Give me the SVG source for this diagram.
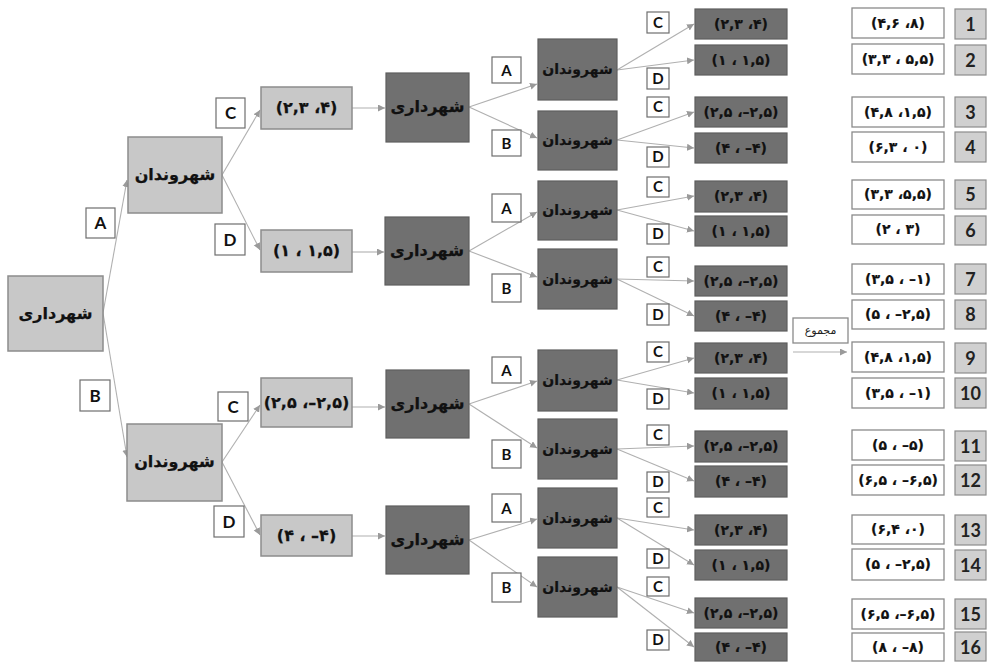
<svg xmlns="http://www.w3.org/2000/svg" width="987" height="662" viewBox="0 0 987 662">
<defs>
<marker id="ah" markerUnits="userSpaceOnUse" markerWidth="8" markerHeight="8" refX="7" refY="3.5" orient="auto">
<path d="M0,0 L7,3.5 L0,7 z" fill="#9a9a9a"/>
</marker>
<style>
.lt{fill:#c8c8c8;stroke:#8c8c8c;stroke-width:1.5}
.dk{fill:#707070;stroke:#5e5e5e;stroke-width:1.2}
.lb{fill:#fff;stroke:#6e6e6e;stroke-width:1.2}
.sm{fill:#fff;stroke:#8a8a8a;stroke-width:1.3}
.nb{fill:#d0d0d0;stroke:#8c8c8c;stroke-width:1.2}
.fa{font-family:'DejaVu Sans',sans-serif;font-weight:bold;font-size:16px;text-anchor:middle;fill:#111;stroke:#111;stroke-width:0.25}
.fs{font-family:'DejaVu Sans',sans-serif;font-weight:bold;font-size:14px;text-anchor:middle;fill:#111;stroke:#111;stroke-width:0.2}
.la{font-family:Lato,'Liberation Sans',sans-serif;font-weight:bold;font-size:17px;text-anchor:middle;fill:#111}
.ls{font-family:Lato,'Liberation Sans',sans-serif;font-weight:bold;font-size:15px;text-anchor:middle;fill:#111}
.nm{font-family:Lato,'Liberation Sans',sans-serif;font-weight:bold;font-size:18px;text-anchor:middle;fill:#222}
.mj{font-family:'DejaVu Sans',sans-serif;font-size:11px;text-anchor:middle;fill:#222}
.cn{fill:none;stroke:#b0b0b0;stroke-width:1.1;marker-end:url(#ah)}
</style>
</defs>
<rect width="987" height="662" fill="#fff"/>

<g id="connectors">
<path class="cn" d="M103,313 L127,180"/>
<path class="cn" d="M103,313 L127,457"/>
<path class="cn" d="M222,175 L260,110"/>
<path class="cn" d="M222,175 L260,250"/>
<path class="cn" d="M222,462 L260,405"/>
<path class="cn" d="M222,462 L260,535"/>
<path class="cn" d="M352,108 L385,108"/>
<path class="cn" d="M352,252 L384,252"/>
<path class="cn" d="M352,407 L385,407"/>
<path class="cn" d="M352,536 L385,536"/>
<path class="cn" d="M469,107 L537,84"/>
<path class="cn" d="M469,107 L537,138"/>
<path class="cn" d="M469,251 L537,212"/>
<path class="cn" d="M469,251 L537,277"/>
<path class="cn" d="M469,404 L537,381"/>
<path class="cn" d="M469,404 L537,448"/>
<path class="cn" d="M469,540 L537,519"/>
<path class="cn" d="M469,540 L537,587"/>
<path class="cn" d="M617,70 L694,24"/>
<path class="cn" d="M617,70 L694,60"/>
<path class="cn" d="M617,140 L694,112"/>
<path class="cn" d="M617,140 L694,148"/>
<path class="cn" d="M617,210 L694,196"/>
<path class="cn" d="M617,210 L694,231"/>
<path class="cn" d="M617,279 L694,281"/>
<path class="cn" d="M617,279 L694,316"/>
<path class="cn" d="M617,380 L694,358"/>
<path class="cn" d="M617,380 L694,393"/>
<path class="cn" d="M617,449 L694,446"/>
<path class="cn" d="M617,449 L694,481"/>
<path class="cn" d="M617,518 L694,530"/>
<path class="cn" d="M617,518 L694,565"/>
<path class="cn" d="M617,587 L694,613"/>
<path class="cn" d="M617,587 L694,647"/>
<path class="cn" d="M793,352 L847,352"/>
</g>

<g id="root"><rect class="lt" x="8" y="276" width="95" height="75"/><text class="fa" x="55.5" y="319">شهرداری</text></g>
<g id="citizen-A"><rect class="lt" x="128" y="137" width="94" height="76"/><text class="fa" x="175" y="180">شهروندان</text></g>
<g id="citizen-B"><rect class="lt" x="127" y="424" width="95" height="77"/><text class="fa" x="174.5" y="467">شهروندان</text></g>

<g id="lab-A"><rect class="lb" x="86" y="208" width="29" height="30"/><text class="la" x="100.5" y="229">A</text></g>
<g id="lab-B"><rect class="lb" x="80" y="380" width="30" height="31"/><text class="la" x="95" y="402">B</text></g>
<g id="lab-AC"><rect class="lb" x="216" y="98" width="29" height="30"/><text class="la" x="230.5" y="119">C</text></g>
<g id="lab-AD"><rect class="lb" x="215" y="224" width="30" height="31"/><text class="la" x="230" y="246">D</text></g>
<g id="lab-BC"><rect class="lb" x="218" y="392" width="30" height="29"/><text class="la" x="233" y="413">C</text></g>
<g id="lab-BD"><rect class="lb" x="214" y="506" width="30" height="31"/><text class="la" x="229" y="528">D</text></g>

<g id="pay-AC"><rect class="lt" x="261" y="87" width="91" height="42"/><text class="fa" x="306.5" y="113">(۲,۳ ،۴)</text></g>
<g id="pay-AD"><rect class="lt" x="261" y="230" width="91" height="42"/><text class="fa" x="306.5" y="256">(۱ ، ۱,۵)</text></g>
<g id="pay-BC"><rect class="lt" x="261" y="378" width="91" height="49"/><text class="fa" x="306.5" y="408">(۲,۵ ،–۲,۵)</text></g>
<g id="pay-BD"><rect class="lt" x="261" y="515" width="91" height="41"/><text class="fa" x="306.5" y="541">(۴ ، –۴)</text></g>

<g id="mun-1"><rect class="dk" x="386" y="73" width="83" height="69"/><text class="fa" x="427.5" y="112">شهرداری</text></g>
<g id="mun-2"><rect class="dk" x="385" y="217" width="84" height="68"/><text class="fa" x="427" y="256">شهرداری</text></g>
<g id="mun-3"><rect class="dk" x="386" y="370" width="83" height="68"/><text class="fa" x="427.5" y="409">شهرداری</text></g>
<g id="mun-4"><rect class="dk" x="386" y="506" width="83" height="68"/><text class="fa" x="427.5" y="545">شهرداری</text></g>

<g id="g1-A"><rect class="lb" x="492" y="57" width="29" height="26"/><text class="ls" x="506.5" y="76">A</text></g>
<g id="g1-B"><rect class="lb" x="492" y="130" width="29" height="26"/><text class="ls" x="506.5" y="149">B</text></g>
<g id="g2-A"><rect class="lb" x="492" y="194" width="29" height="28"/><text class="ls" x="506.5" y="214">A</text></g>
<g id="g2-B"><rect class="lb" x="492" y="274" width="29" height="28"/><text class="ls" x="506.5" y="294">B</text></g>
<g id="g3-A"><rect class="lb" x="492" y="357" width="29" height="26"/><text class="ls" x="506.5" y="376">A</text></g>
<g id="g3-B"><rect class="lb" x="492" y="440" width="29" height="28"/><text class="ls" x="506.5" y="460">B</text></g>
<g id="g4-A"><rect class="lb" x="492" y="494" width="29" height="28"/><text class="ls" x="506.5" y="514">A</text></g>
<g id="g4-B"><rect class="lb" x="492" y="573" width="29" height="29"/><text class="ls" x="506.5" y="593">B</text></g>

<g id="g1-cA"><rect class="dk" x="538" y="39" width="79" height="61"/><text class="fs" x="577.5" y="74">شهروندان</text></g>
<g id="g1-cB"><rect class="dk" x="538" y="111" width="79" height="59"/><text class="fs" x="577.5" y="145">شهروندان</text></g>
<g id="g2-cA"><rect class="dk" x="538" y="181" width="79" height="59"/><text class="fs" x="577.5" y="215">شهروندان</text></g>
<g id="g2-cB"><rect class="dk" x="538" y="249" width="79" height="60"/><text class="fs" x="577.5" y="284">شهروندان</text></g>
<g id="g3-cA"><rect class="dk" x="538" y="350" width="79" height="61"/><text class="fs" x="577.5" y="385">شهروندان</text></g>
<g id="g3-cB"><rect class="dk" x="538" y="419" width="79" height="60"/><text class="fs" x="577.5" y="454">شهروندان</text></g>
<g id="g4-cA"><rect class="dk" x="538" y="488" width="79" height="60"/><text class="fs" x="577.5" y="523">شهروندان</text></g>
<g id="g4-cB"><rect class="dk" x="538" y="557" width="79" height="60"/><text class="fs" x="577.5" y="592">شهروندان</text></g>

<g id="g1-C1"><rect class="lb" x="647" y="12" width="22" height="21"/><text class="ls" x="658" y="28">C</text></g>
<g id="g1-D1"><rect class="lb" x="647" y="68" width="22" height="21"/><text class="ls" x="658" y="84">D</text></g>
<g id="g1-C2"><rect class="lb" x="647" y="97" width="22" height="20"/><text class="ls" x="658" y="112">C</text></g>
<g id="g1-D2"><rect class="lb" x="647" y="147" width="22" height="20"/><text class="ls" x="658" y="162">D</text></g>
<g id="g2-C1"><rect class="lb" x="647" y="177" width="22" height="20"/><text class="ls" x="658" y="192">C</text></g>
<g id="g2-D1"><rect class="lb" x="647" y="224" width="22" height="20"/><text class="ls" x="658" y="239">D</text></g>
<g id="g2-C2"><rect class="lb" x="647" y="257" width="22" height="20"/><text class="ls" x="658" y="272">C</text></g>
<g id="g2-D2"><rect class="lb" x="647" y="304" width="22" height="21"/><text class="ls" x="658" y="320">D</text></g>
<g id="g3-C1"><rect class="lb" x="647" y="342" width="22" height="20"/><text class="ls" x="658" y="357">C</text></g>
<g id="g3-D1"><rect class="lb" x="647" y="389" width="22" height="20"/><text class="ls" x="658" y="404">D</text></g>
<g id="g3-C2"><rect class="lb" x="647" y="425" width="22" height="20"/><text class="ls" x="658" y="440">C</text></g>
<g id="g3-D2"><rect class="lb" x="647" y="472" width="22" height="20"/><text class="ls" x="658" y="487">D</text></g>
<g id="g4-C1"><rect class="lb" x="647" y="498" width="22" height="19"/><text class="ls" x="658" y="513">C</text></g>
<g id="g4-D1"><rect class="lb" x="647" y="549" width="22" height="19"/><text class="ls" x="658" y="564">D</text></g>
<g id="g4-C2"><rect class="lb" x="647" y="577" width="22" height="19"/><text class="ls" x="658" y="592">C</text></g>
<g id="g4-D2"><rect class="lb" x="647" y="630" width="22" height="20"/><text class="ls" x="658" y="645">D</text></g>

<g id="g1-p1"><rect class="dk" x="695" y="9" width="92" height="30"/><text class="fs" x="741" y="29">(۲,۳ ،۴)</text></g>
<g id="g1-p2"><rect class="dk" x="695" y="45" width="92" height="30"/><text class="fs" x="741" y="65">(۱ ، ۱,۵)</text></g>
<g id="g1-p3"><rect class="dk" x="695" y="97" width="92" height="30"/><text class="fs" x="741" y="117">(۲,۵ ،–۲,۵)</text></g>
<g id="g1-p4"><rect class="dk" x="695" y="133" width="92" height="30"/><text class="fs" x="741" y="153">(۴ ، –۴)</text></g>
<g id="g2-p1"><rect class="dk" x="695" y="181" width="92" height="31"/><text class="fs" x="741" y="201">(۲,۳ ،۴)</text></g>
<g id="g2-p2"><rect class="dk" x="695" y="216" width="92" height="30"/><text class="fs" x="741" y="236">(۱ ، ۱,۵)</text></g>
<g id="g2-p3"><rect class="dk" x="695" y="266" width="92" height="30"/><text class="fs" x="741" y="286">(۲,۵ ،–۲,۵)</text></g>
<g id="g2-p4"><rect class="dk" x="695" y="301" width="92" height="30"/><text class="fs" x="741" y="321">(۴ ، –۴)</text></g>
<g id="g3-p1"><rect class="dk" x="695" y="343" width="92" height="30"/><text class="fs" x="741" y="363">(۲,۳ ،۴)</text></g>
<g id="g3-p2"><rect class="dk" x="695" y="378" width="92" height="31"/><text class="fs" x="741" y="398">(۱ ، ۱,۵)</text></g>
<g id="g3-p3"><rect class="dk" x="695" y="431" width="92" height="31"/><text class="fs" x="741" y="451">(۲,۵ ،–۲,۵)</text></g>
<g id="g3-p4"><rect class="dk" x="695" y="466" width="92" height="31"/><text class="fs" x="741" y="486">(۴ ، –۴)</text></g>
<g id="g4-p1"><rect class="dk" x="695" y="515" width="92" height="30"/><text class="fs" x="741" y="535">(۲,۳ ،۴)</text></g>
<g id="g4-p2"><rect class="dk" x="695" y="550" width="92" height="30"/><text class="fs" x="741" y="570">(۱ ، ۱,۵)</text></g>
<g id="g4-p3"><rect class="dk" x="695" y="598" width="92" height="30"/><text class="fs" x="741" y="618">(۲,۵ ،–۲,۵)</text></g>
<g id="g4-p4"><rect class="dk" x="695" y="633" width="92" height="28"/><text class="fs" x="741" y="652">(۴ ، –۴)</text></g>

<g id="sum-label"><rect class="sm" x="793" y="318" width="55" height="25"/><text class="mj" x="820.5" y="334">مجموع</text></g>

<g id="s1"><rect class="sm" x="852" y="8" width="92" height="30"/><text class="fs" x="898" y="28">(۴,۶ ،۸)</text><rect class="nb" x="955" y="9" width="31" height="30"/><text class="nm" x="970.5" y="31">1</text></g>
<g id="s2"><rect class="sm" x="852" y="44" width="92" height="30"/><text class="fs" x="898" y="64">(۳,۳ ، ۵,۵)</text><rect class="nb" x="955" y="45" width="31" height="30"/><text class="nm" x="970.5" y="67">2</text></g>
<g id="s3"><rect class="sm" x="852" y="97" width="92" height="30"/><text class="fs" x="898" y="117">(۴,۸ ،۱,۵)</text><rect class="nb" x="955" y="97" width="31" height="30"/><text class="nm" x="970.5" y="119">3</text></g>
<g id="s4"><rect class="sm" x="852" y="132" width="92" height="30"/><text class="fs" x="898" y="152">(۶,۳ ، ۰)</text><rect class="nb" x="955" y="132" width="31" height="30"/><text class="nm" x="970.5" y="154">4</text></g>
<g id="s5"><rect class="sm" x="852" y="180" width="92" height="29"/><text class="fs" x="898" y="199">(۳,۳ ،۵,۵)</text><rect class="nb" x="955" y="180" width="31" height="29"/><text class="nm" x="970.5" y="201">5</text></g>
<g id="s6"><rect class="sm" x="852" y="215" width="92" height="29"/><text class="fs" x="898" y="234">(۲ ، ۳)</text><rect class="nb" x="955" y="216" width="31" height="29"/><text class="nm" x="970.5" y="237">6</text></g>
<g id="s7"><rect class="sm" x="852" y="264" width="92" height="30"/><text class="fs" x="898" y="284">(۳,۵ ، –۱)</text><rect class="nb" x="955" y="264" width="31" height="30"/><text class="nm" x="970.5" y="286">7</text></g>
<g id="s8"><rect class="sm" x="852" y="300" width="92" height="29"/><text class="fs" x="898" y="319">(۵ ، –۲,۵)</text><rect class="nb" x="955" y="300" width="31" height="29"/><text class="nm" x="970.5" y="321">8</text></g>
<g id="s9"><rect class="sm" x="852" y="342" width="92" height="30"/><text class="fs" x="898" y="362">(۴,۸ ،۱,۵)</text><rect class="nb" x="955" y="343" width="31" height="30"/><text class="nm" x="970.5" y="365">9</text></g>
<g id="s10"><rect class="sm" x="852" y="378" width="92" height="30"/><text class="fs" x="898" y="398">(۳,۵ ، –۱)</text><rect class="nb" x="955" y="378" width="31" height="30"/><text class="nm" x="970.5" y="400">10</text></g>
<g id="s11"><rect class="sm" x="852" y="430" width="92" height="30"/><text class="fs" x="898" y="450">(۵ ، –۵)</text><rect class="nb" x="955" y="431" width="31" height="30"/><text class="nm" x="970.5" y="453">11</text></g>
<g id="s12"><rect class="sm" x="852" y="465" width="92" height="30"/><text class="fs" x="898" y="485">(۶,۵ ، –۶,۵)</text><rect class="nb" x="955" y="465" width="31" height="30"/><text class="nm" x="970.5" y="487">12</text></g>
<g id="s13"><rect class="sm" x="852" y="515" width="92" height="29"/><text class="fs" x="898" y="534">(۶,۴ ،۰)</text><rect class="nb" x="955" y="515" width="31" height="30"/><text class="nm" x="970.5" y="537">13</text></g>
<g id="s14"><rect class="sm" x="852" y="549" width="92" height="31"/><text class="fs" x="898" y="569">(۵ ، –۲,۵)</text><rect class="nb" x="955" y="550" width="31" height="30"/><text class="nm" x="970.5" y="572">14</text></g>
<g id="s15"><rect class="sm" x="852" y="599" width="92" height="30"/><text class="fs" x="898" y="619">(۶,۵ ،–۶,۵)</text><rect class="nb" x="955" y="599" width="31" height="30"/><text class="nm" x="970.5" y="621">15</text></g>
<g id="s16"><rect class="sm" x="852" y="633" width="92" height="28"/><text class="fs" x="898" y="652">(۸ ، –۸)</text><rect class="nb" x="955" y="632" width="31" height="29"/><text class="nm" x="970.5" y="654">16</text></g>
</svg>
